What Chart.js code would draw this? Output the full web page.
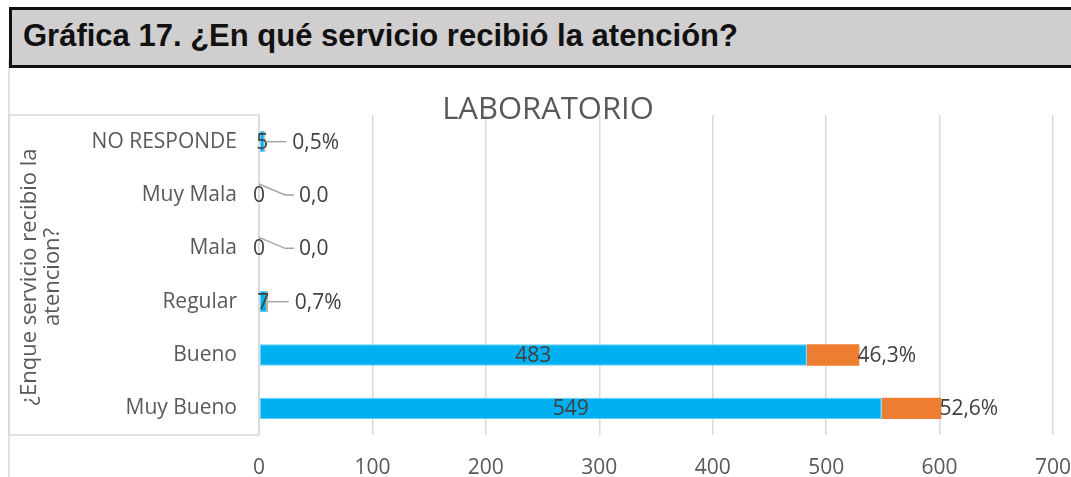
<!DOCTYPE html>
<html>
<head>
<meta charset="utf-8">
<script src="https://cdn.jsdelivr.net/npm/chart.js@4"></script>
<style>
  body { margin: 0; background: #fff; overflow: hidden; }
  #wrap { position: relative; width: 1071px; height: 477px; }
  #chart { position: absolute; left: 0; top: 0; }
  #head {
    position: absolute; left: 9px; top: 7px; width: 1080px; height: 55px;
    background: #d0cece; border: 3px solid #111;
    font-family: "Liberation Sans", Arial, sans-serif; font-weight: bold;
    font-size: 31px; color: #111; box-sizing: content-box;
  }
  #head span { position: absolute; left: 11px; top: 8px; white-space: nowrap; }
</style>
</head>
<body>
<div id="wrap">
  <canvas id="chart" width="1071" height="477"></canvas>
  <div id="head"><span>Gráfica 17. ¿En qué servicio recibió la atención?</span></div>
</div>
<script>
// data
const categories = ["NO RESPONDE", "Muy Mala", "Mala", "Regular", "Bueno", "Muy Bueno"]
const counts = [5, 0, 0, 7, 483, 549]
const percents = [0.5, 0, 0, 0.7, 46.3, 52.6]
const percentLabels = ["0,5%", "0,0", "0,0", "0,7%", "46,3%", "52,6%"]
const xMax = 700
const xStep = 100
const chartTitle = "LABORATORIO"
const axisTitle = ["¿Enque servicio recibio la", "atencion?"]

const FONT = "'Open Sans', sans-serif"
const labelColor = "#404040"
const gridColor = "#d9d9d9"

const extras = {
  id: "extras",
  beforeDraw(chart) {
    let ctx = chart.ctx
    let area = chart.chartArea
    ctx.save()
    ctx.strokeStyle = gridColor
    ctx.lineWidth = 1.5
    // outer chart border on the left
    ctx.beginPath()
    ctx.moveTo(9, 60)
    ctx.lineTo(9, 477)
    ctx.stroke()
    // box round the category axis
    ctx.strokeRect(9, area.top, area.left - 9, area.bottom - area.top)
    ctx.restore()
  },
  afterDatasetsDraw(chart) {
    let ctx = chart.ctx
    let blue = chart.getDatasetMeta(0).data
    let orange = chart.getDatasetMeta(1).data
    ctx.save()
    ctx.font = "21px " + FONT
    ctx.fillStyle = labelColor
    ctx.textBaseline = "middle"
    // counts, centred in the blue part
    ctx.textAlign = "center"
    for (let i = 0; i < blue.length; i++) {
      let b = blue[i]
      ctx.fillText(String(counts[i]), (b.x + b.base) / 2, b.y + 1)
    }
    // percents after the orange part
    ctx.textAlign = "left"
    ctx.strokeStyle = "#a6a6a6"
    ctx.lineWidth = 1.5
    for (let i = 0; i < orange.length; i++) {
      let o = orange[i]
      if (counts[i] < 20) {//small bars get a callout line
        let lx
        ctx.beginPath()
        if (counts[i] == 0) {
          lx = o.x + 40
          ctx.moveTo(o.x, o.y - 11)
          ctx.lineTo(o.x + 26, o.y)
          ctx.lineTo(lx - 5, o.y)
        } else {
          lx = o.x + 27
          ctx.moveTo(o.x, o.y)
          ctx.lineTo(lx - 6, o.y)
        }
        ctx.stroke()
        ctx.fillText(percentLabels[i], lx, o.y + 1)
      } else {
        ctx.fillText(percentLabels[i], o.x - 2, o.y + 1)
      }
    }
    ctx.restore()
  },
  afterDraw(chart) {
    let ctx = chart.ctx
    let area = chart.chartArea
    ctx.save()
    ctx.fillStyle = "#595959"
    ctx.textAlign = "center"
    ctx.textBaseline = "middle"
    ctx.font = "31px " + FONT
    ctx.fillText(chartTitle, 548, 110)
    // rotated axis title
    ctx.font = "22px " + FONT
    let cy = (area.top + area.bottom) / 2 + 2
    for (let k = 0; k < axisTitle.length; k++) {
      ctx.save()
      ctx.translate(30 + k * 23, cy)
      ctx.rotate(-Math.PI / 2)
      ctx.fillText(axisTitle[k], 0, 0)
      ctx.restore()
    }
    ctx.restore()
  }
}

const chart = new Chart(document.getElementById("chart"), {
  type: "bar",
  data: {
    labels: categories,
    datasets: [
      { label: "Cantidad", data: counts, backgroundColor: "#00b0f0", borderColor: "#5fd0f8", borderWidth: 1, borderSkipped: false },
      { label: "Porcentaje", data: percents, backgroundColor: "#ed7d31" }
    ]
  },
  options: {
    indexAxis: "y",
    responsive: false,
    animation: false,
    devicePixelRatio: 1,
    layout: { padding: { top: 115, right: 0, left: 0, bottom: 0 } },
    plugins: { legend: { display: false }, tooltip: { enabled: false }, title: { display: false } },
    datasets: { bar: { categoryPercentage: 1, barPercentage: 0.4 } },
    scales: {
      x: {
        stacked: true, min: 0, max: xMax,
        ticks: { stepSize: xStep, padding: 20, color: "#595959", font: { family: FONT, size: 21 } },
        grid: { color: gridColor, lineWidth: 1.5, drawTicks: false },
        border: { display: false },
        afterFit(s) { s.height = 42; s.paddingRight = 18; s.paddingLeft = 0 }
      },
      y: {
        stacked: true,
        ticks: { padding: 22, color: "#595959", font: { family: FONT, size: 21 } },
        grid: { display: false, drawTicks: false },
        border: { display: false },
        afterFit(s) { s.width = 259 }
      }
    }
  },
  plugins: [extras]
})
</script>
</body>
</html>
